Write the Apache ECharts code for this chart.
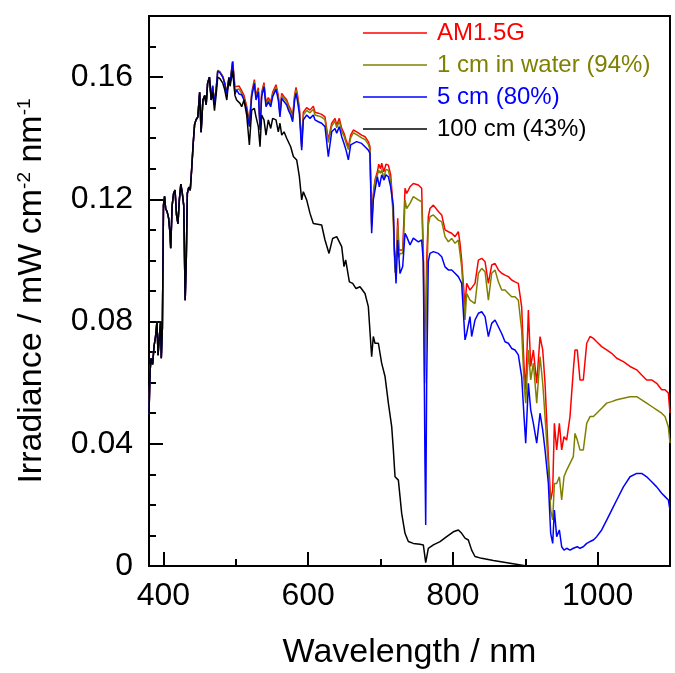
<!DOCTYPE html>
<html>
<head>
<meta charset="utf-8">
<title>Irradiance spectra</title>
<script src="https://cdn.jsdelivr.net/npm/echarts@6/dist/echarts.min.js"></script>
<style>
html, body { margin: 0; padding: 0; background: #fff; }
#chart { width: 675px; height: 673px; }
</style>
</head>
<body>
<div id="chart"></div>
<script>
// wavelength (nm), irradiance (mW cm-2 nm-1)
// below ~466 nm all four curves lie on top of each other
var uvBand = [[380,0.050],[381.5,0.064],[383,0.068],[385,0.066],[387,0.072],[389,0.075],[391,0.080],[392.5,0.069],[394,0.074],[396,0.080],[397,0.068],[398.5,0.078],[400,0.118],[401.5,0.121],[403,0.117],[405,0.116],[407,0.114],[409,0.109],[410,0.104],[412,0.118],[414,0.122],[416,0.123],[418,0.115],[420,0.112],[422,0.120],[424,0.125],[426,0.122],[428,0.118],[430,0.087],[431.5,0.100],[433,0.122],[435,0.124],[437,0.123],[439,0.130],[441,0.138],[443,0.1445],[445,0.146],[447.5,0.147],[450,0.155],[452,0.142],[454.5,0.1525],[457,0.154],[459,0.151],[461,0.158],[463.5,0.160],[466,0.1525]];

var am15g = [[468,0.1572],[470.5,0.1512],[473,0.1567],[475,0.1622],[478,0.1617],[480,0.1622],[482,0.1602],[484.5,0.1582],[487.5,0.1547],[490.5,0.16],[492,0.1582],[495.6,0.1652],[498.8,0.1568],[501.1,0.1572],[504.4,0.1571],[508.1,0.1555],[511.3,0.154],[515,0.1505],[518.7,0.145],[521.9,0.1548],[525.6,0.1592],[527.9,0.1538],[531.1,0.1565],[533.4,0.144],[535.7,0.155],[538.9,0.1582],[541.7,0.1517],[544.9,0.1533],[548.2,0.1518],[550.9,0.155],[552.7,0.1545],[555.5,0.1575],[558.7,0.154],[561,0.1485],[563.4,0.1547],[566.6,0.1536],[570.3,0.1526],[572.6,0.151],[575.8,0.1494],[578.5,0.1472],[581.3,0.1543],[583.2,0.1566],[585,0.1545],[587.8,0.15],[591,0.138],[593.3,0.1485],[595.6,0.1487],[597.9,0.15],[602.5,0.1492],[604.8,0.1498],[607.1,0.1505],[609.4,0.1485],[614,0.1482],[618.6,0.1478],[623.2,0.147],[627.8,0.1394],[632.5,0.1449],[637.1,0.1465],[639.4,0.1443],[643,0.1465],[646.3,0.1432],[649.5,0.1416],[652.3,0.1394],[655.5,0.1372],[658.7,0.141],[662.4,0.1427],[667,0.1421],[669.3,0.1416],[673.9,0.141],[678.5,0.1405],[683.1,0.1389],[685.4,0.1372],[687.7,0.112],[690,0.122],[692.3,0.1263],[695.6,0.129],[697.5,0.1315],[700,0.13],[701.6,0.1318],[704.5,0.129],[707.5,0.1315],[710.8,0.1312],[714,0.128],[716.5,0.12],[717.7,0.1143],[720,0.0979],[722.3,0.1034],[723.7,0.1138],[725.5,0.1034],[726.9,0.1034],[730.6,0.1034],[732.4,0.1143],[733.8,0.1236],[736.1,0.1219],[740.7,0.1241],[745.3,0.1252],[752.2,0.1247],[756.8,0.1236],[759.1,0.1034],[761,0.0685],[762.4,0.08],[763.7,0.1],[766,0.1143],[768.3,0.117],[773,0.1181],[779.9,0.116],[784.5,0.1149],[789.1,0.11],[793.7,0.1094],[798.3,0.1089],[802.9,0.1078],[807.5,0.1094],[809.8,0.1056],[812.1,0.1001],[816.7,0.0848],[819,0.0925],[823.6,0.0903],[830.5,0.0925],[835.2,0.1001],[839.8,0.1007],[844.4,0.0996],[849,0.0925],[853.6,0.0985],[858.2,0.099],[862.8,0.0969],[867.4,0.0958],[872,0.0952],[876.6,0.0947],[881.2,0.0936],[885.8,0.093],[890.4,0.0925],[895,0.0848],[898.3,0.0653],[900.6,0.0577],[904.3,0.0838],[907.5,0.0653],[911.2,0.0707],[915.8,0.0598],[920.4,0.0751],[924.1,0.0707],[927.3,0.0598],[931.9,0.0358],[935.1,0.0216],[937.9,0.0249],[940.2,0.0467],[943.4,0.038],[947.1,0.0467],[950.3,0.038],[953.5,0.0423],[957.2,0.0412],[961.8,0.0489],[966.4,0.0641],[968.7,0.0707],[971.9,0.0707],[975.6,0.0609],[980.2,0.0609],[984.9,0.0729],[989.5,0.0751],[994.1,0.0745],[998.7,0.0734],[1005.6,0.0718],[1012.5,0.0707],[1019.4,0.0696],[1026.4,0.068],[1035.6,0.0669],[1044.8,0.0653],[1054,0.0642],[1060.9,0.0625],[1067.8,0.0609],[1074.7,0.0609],[1081.6,0.0598],[1088.5,0.0577],[1093.1,0.0577],[1097.7,0.0566],[1100,0.05]];

var water1cm = [[468,0.1572],[470.5,0.1512],[473,0.1567],[475,0.1622],[478,0.1617],[480,0.1622],[482,0.1602],[484.5,0.1582],[487.5,0.1547],[490.5,0.16],[492,0.1582],[495.6,0.1652],[498.8,0.1558],[501.1,0.1562],[504.4,0.1561],[508.1,0.1547],[511.3,0.1532],[515,0.1497],[518.7,0.1444],[521.9,0.1541],[525.6,0.1586],[527.9,0.1531],[531.1,0.1558],[533.4,0.1434],[535.7,0.1543],[538.9,0.1575],[541.7,0.151],[544.9,0.1526],[548.2,0.1511],[550.9,0.1543],[552.7,0.1538],[555.5,0.1568],[558.7,0.1533],[561,0.1478],[563.4,0.154],[566.6,0.1529],[570.3,0.1519],[572.6,0.1502],[575.8,0.1486],[578.5,0.1464],[581.3,0.1536],[583.2,0.1559],[585,0.1537],[587.8,0.1492],[591,0.1372],[593.3,0.1476],[595.6,0.1478],[597.9,0.1491],[602.5,0.1483],[604.8,0.1489],[607.1,0.1495],[609.4,0.1476],[614,0.1473],[618.6,0.1469],[623.2,0.1461],[627.8,0.1386],[632.5,0.144],[637.1,0.1456],[639.4,0.1434],[643,0.1456],[646.3,0.1423],[649.5,0.1407],[652.3,0.1385],[655.5,0.1363],[658.7,0.1401],[662.4,0.1418],[667,0.1412],[669.3,0.1407],[673.9,0.1401],[678.5,0.1396],[683.1,0.138],[685.4,0.1363],[687.7,0.111],[690,0.121],[692.3,0.1258],[695.6,0.128],[697.5,0.1295],[700,0.1285],[701.6,0.1298],[704.5,0.127],[707.5,0.1298],[710.8,0.1295],[714,0.1262],[716.5,0.118],[717.7,0.112],[720,0.096],[722.3,0.101],[723.7,0.1116],[725.5,0.101],[726.9,0.1023],[730.6,0.1023],[732.4,0.11],[733.8,0.1198],[736.1,0.117],[740.7,0.1187],[745.3,0.1209],[752.2,0.1198],[756.8,0.1192],[759.1,0.1],[761,0.0598],[762.4,0.072],[763.7,0.0925],[766,0.1116],[768.3,0.1143],[773,0.1149],[779.9,0.1132],[784.5,0.1127],[789.1,0.1078],[793.7,0.1061],[798.3,0.1072],[802.9,0.1056],[807.5,0.1067],[809.8,0.1023],[812.1,0.0979],[816.7,0.0805],[819,0.0892],[823.6,0.087],[830.5,0.0859],[835.2,0.0958],[839.8,0.0974],[844.4,0.0963],[849,0.087],[853.6,0.0958],[858.2,0.0969],[862.8,0.093],[867.4,0.0903],[872,0.0903],[876.6,0.0892],[881.2,0.0881],[885.8,0.0881],[890.4,0.087],[895,0.0772],[898.3,0.0598],[900.6,0.0533],[904.3,0.0707],[907.5,0.0609],[911.2,0.0664],[915.8,0.0533],[920.4,0.0685],[924.1,0.0598],[927.3,0.0489],[931.9,0.0325],[935.1,0.0183],[937.9,0.0151],[940.2,0.027],[943.4,0.027],[947.1,0.0292],[950.3,0.0216],[953.5,0.0292],[957.2,0.0314],[961.8,0.0336],[966.4,0.0358],[968.7,0.0434],[971.9,0.0412],[975.6,0.038],[980.2,0.038],[984.9,0.0467],[989.5,0.0489],[994.1,0.0489],[998.7,0.05],[1005.6,0.0516],[1012.5,0.0533],[1019.4,0.0538],[1026.4,0.0544],[1035.6,0.0549],[1044.8,0.0554],[1054,0.0554],[1060.9,0.0544],[1067.8,0.0533],[1074.7,0.0522],[1081.6,0.0511],[1088.5,0.05],[1093.1,0.0489],[1097.7,0.0456],[1100,0.0402]];

var water5cm = [[468,0.157],[470.5,0.151],[473,0.1565],[475,0.162],[478,0.1615],[480,0.162],[482,0.160],[484.5,0.158],[487.5,0.1545],[490.5,0.1598],[492,0.158],[495.6,0.165],[498.8,0.1545],[501.1,0.1558],[504.4,0.1545],[508.1,0.1542],[511.3,0.1525],[515,0.1492],[518.7,0.1438],[521.9,0.1536],[525.6,0.158],[527.9,0.1525],[531.1,0.1552],[533.4,0.1427],[535.7,0.1536],[538.9,0.1569],[541.7,0.1503],[544.9,0.1519],[548.2,0.1503],[550.9,0.1536],[552.7,0.1531],[555.5,0.156],[558.7,0.1525],[561,0.147],[563.4,0.1531],[566.6,0.152],[570.3,0.1509],[572.6,0.1492],[575.8,0.1476],[578.5,0.1454],[581.3,0.1525],[583.2,0.1547],[585,0.1525],[587.8,0.1481],[591,0.1361],[593.3,0.146],[595.6,0.146],[597.9,0.1476],[602.5,0.1465],[604.8,0.147],[607.1,0.1476],[609.4,0.146],[614,0.1454],[618.6,0.1449],[623.2,0.1438],[627.8,0.134],[632.5,0.1421],[637.1,0.1432],[639.4,0.1416],[643,0.1438],[646.3,0.1405],[649.5,0.1383],[652.3,0.1361],[655.5,0.1329],[658.7,0.1378],[662.4,0.1383],[667,0.1389],[669.3,0.1394],[673.9,0.1383],[678.5,0.1372],[683.1,0.1361],[685.4,0.135],[687.7,0.1089],[690,0.1198],[692.3,0.123],[695.6,0.1274],[698.3,0.1241],[701.6,0.128],[704.8,0.1263],[707.5,0.128],[710.8,0.1274],[714,0.1241],[717.7,0.1176],[719,0.104],[721.4,0.0925],[723.7,0.1067],[726.9,0.0957],[729.2,0.0953],[730.6,0.098],[733.8,0.1089],[736.1,0.1078],[740.7,0.1051],[745.3,0.1073],[752.2,0.1061],[756.8,0.1067],[759.1,0.0997],[760.5,0.06],[761.4,0.0335],[762.4,0.0134],[763.7,0.06],[766,0.0997],[768.3,0.1023],[773,0.1029],[779.9,0.1023],[784.5,0.1012],[789.1,0.0979],[793.7,0.0969],[798.3,0.0969],[802.9,0.0958],[807.5,0.0947],[809.8,0.0936],[812.1,0.0925],[816.7,0.074],[819,0.0761],[823.6,0.0816],[825.9,0.0751],[830.5,0.0805],[835.2,0.0827],[839.8,0.0832],[844.4,0.0816],[849,0.0751],[853.6,0.0794],[858.2,0.0805],[862.8,0.0783],[867.4,0.0761],[872,0.0734],[876.6,0.0729],[881.2,0.0712],[885.8,0.0707],[890.4,0.0691],[895,0.062],[898.3,0.0489],[900.6,0.0402],[904.3,0.0598],[907.5,0.0511],[911.2,0.0467],[915.8,0.0402],[920.4,0.05],[924.1,0.0445],[927.3,0.038],[931.9,0.027],[935.1,0.0107],[937.9,0.0074],[940.2,0.0183],[943.4,0.0096],[947.1,0.0118],[950.3,0.0063],[953.5,0.0052],[957.2,0.0058],[961.8,0.0052],[966.4,0.0058],[971.9,0.0063],[975.6,0.0058],[980.2,0.0063],[984.9,0.0074],[989.5,0.008],[994.1,0.0085],[998.7,0.0096],[1005.6,0.0118],[1012.5,0.015],[1019.4,0.0183],[1026.4,0.0216],[1035.6,0.0259],[1044.8,0.0292],[1054,0.0303],[1060.9,0.0303],[1067.8,0.0292],[1074.7,0.0276],[1081.6,0.0259],[1088.5,0.0238],[1093.1,0.0227],[1097.7,0.0216],[1100,0.0183]];

var water100cm = [[468,0.155],[470.5,0.149],[473,0.1547],[475,0.160],[478,0.1595],[480,0.160],[482,0.158],[484.5,0.156],[487.5,0.1525],[490.5,0.1598],[492,0.157],[495.6,0.162],[498.8,0.154],[501.1,0.1525],[505.8,0.1514],[508.1,0.1503],[511.3,0.1525],[515,0.1476],[518.7,0.1378],[521.9,0.1492],[525.6,0.1498],[527.9,0.147],[531.1,0.1438],[533.4,0.1372],[535.7,0.1476],[538.9,0.146],[541.7,0.141],[544.9,0.146],[548.2,0.1432],[550.9,0.1465],[555.5,0.146],[558.7,0.1421],[561,0.1449],[563.4,0.141],[566.6,0.1421],[570.3,0.14],[575.8,0.1372],[579.5,0.134],[584.1,0.1329],[587.8,0.1274],[591,0.1198],[593.3,0.1225],[597.9,0.1198],[602.5,0.1154],[607.1,0.1121],[618.6,0.1116],[623.2,0.1067],[628.8,0.1023],[633.8,0.1072],[639.4,0.1078],[646.3,0.1045],[649.5,0.098],[651.8,0.1002],[656.9,0.093],[661.5,0.0925],[666.1,0.0908],[671.6,0.0914],[678.5,0.0892],[683.1,0.0849],[687.7,0.0685],[690,0.0751],[692.3,0.0729],[697,0.0729],[701.5,0.0664],[706.2,0.062],[710.8,0.0533],[715.4,0.0456],[717.7,0.038],[720,0.0292],[724.6,0.0281],[726.9,0.0227],[729.2,0.0172],[733.8,0.0107],[738.4,0.008],[745.3,0.0074],[754.5,0.0071],[759.1,0.0069],[762.4,0.0011],[766,0.0058],[773,0.0069],[782.2,0.008],[791.4,0.0096],[800.6,0.0112],[807.5,0.0118],[812.1,0.0107],[816.7,0.0091],[821.3,0.0085],[825.9,0.0052],[830.5,0.0031],[839.8,0.0025],[855.9,0.0018],[879,0.0009],[902,0],[1100,0]];

var seriesNames = ['AM1.5G', '1 cm in water (94%)', '5 cm (80%)', '100 cm (43%)'];
var seriesColors = ['#ff0000', '#808000', '#0000ff', '#000000'];
var seriesParts = [am15g, water1cm, water5cm, water100cm];

var xLabelTicks = [400, 600, 800, 1000];
var xMinorTicks = [500, 700, 900, 1100];
var yLabelTicks = [0, 0.04, 0.08, 0.12, 0.16];
var yMinorTicks = [0.01, 0.02, 0.03, 0.05, 0.06, 0.07, 0.09, 0.10, 0.11, 0.13, 0.14, 0.15, 0.17];

var font = 'Arial, "Liberation Sans", sans-serif';
var chart = echarts.init(document.getElementById('chart'));

var series = [];
for (var i = 0; i < seriesNames.length; i++) {
    series.push({
        name: seriesNames[i],
        type: 'line',
        xAxisIndex: 0,
        yAxisIndex: 0,
        symbol: 'none',
        showSymbol: false,
        color: seriesColors[i],
        lineStyle: { color: seriesColors[i], width: 1.5 },
        data: uvBand.concat(seriesParts[i])
    });
}

var option = {
    animation: false,
    backgroundColor: '#fff',
    grid: {
        left: 149, right: 5, top: 16, bottom: 107,
        show: true, borderColor: '#000', borderWidth: 2,
        outerBoundsMode: 'none'
    },
    legend: {
        orient: 'vertical',
        left: 363,
        top: 21,
        padding: 0,
        icon: 'rect',
        itemWidth: 64,
        itemHeight: 1.6,
        itemGap: 8,
        selectedMode: false,
        textStyle: { fontSize: 24, fontFamily: font, lineHeight: 24, padding: [0, 0, 0, 5] },
        data: seriesNames.map(function (n, i) {
            return { name: n, textStyle: { color: seriesColors[i] } };
        })
    },
    xAxis: [{
        type: 'value', min: 380, max: 1100,
        name: 'Wavelength / nm', nameLocation: 'middle', nameGap: 70,
        nameTextStyle: { fontSize: 34, fontFamily: font, color: '#000' },
        axisLine: { show: false },
        splitLine: { show: false },
        axisTick: { inside: true, length: 14, customValues: xLabelTicks, lineStyle: { color: '#000', width: 2 } },
        axisLabel: {
            customValues: xLabelTicks, fontSize: 32, fontFamily: font, color: '#000', margin: 14,
            formatter: function (v) { return String(v); }
        }
    }, {
        type: 'value', min: 380, max: 1100, position: 'bottom',
        axisLine: { show: false }, splitLine: { show: false },
        axisTick: { inside: true, length: 7, customValues: xMinorTicks, lineStyle: { color: '#000', width: 2 } },
        axisLabel: { show: false }
    }],
    yAxis: [{
        type: 'value', min: 0, max: 0.18, position: 'left',
        name: 'Irradiance / mW cm{sup|-2} nm{sup|-1}', nameLocation: 'middle', nameGap: 100,
        nameTextStyle: {
            fontSize: 34, fontFamily: font, color: '#000',
            rich: { sup: { fontSize: 19, fontFamily: font, color: '#000', verticalAlign: 'top' } }
        },
        axisLine: { show: false },
        splitLine: { show: false },
        axisTick: { inside: true, length: 14, customValues: yLabelTicks, lineStyle: { color: '#000', width: 2 } },
        axisLabel: {
            customValues: yLabelTicks, fontSize: 32, fontFamily: font, color: '#000', margin: 16,
            formatter: function (v) { return String(v); }
        }
    }, {
        type: 'value', min: 0, max: 0.18, position: 'left',
        axisLine: { show: false }, splitLine: { show: false },
        axisTick: { inside: true, length: 7, customValues: yMinorTicks, lineStyle: { color: '#000', width: 2 } },
        axisLabel: { show: false }
    }],
    series: series
};

chart.setOption(option);
</script>
</body>
</html>
